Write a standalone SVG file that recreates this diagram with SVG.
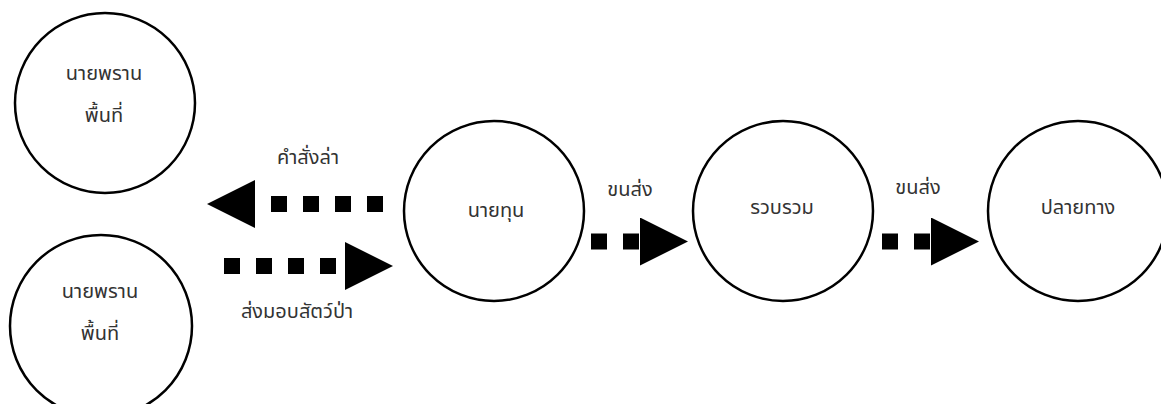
<svg xmlns="http://www.w3.org/2000/svg" width="1161" height="404" viewBox="0 0 1161 404">
<style>
.node circle{fill:#fff;stroke:#000;stroke-width:2.5}
text{font-family:"Noto Sans Thai","Noto Sans","Liberation Sans",sans-serif;font-size:20px;fill:#333;text-anchor:middle}
.conn{stroke:#000;stroke-width:16;stroke-dasharray:16 16;fill:none}
</style>
<defs>
<marker id="ah" markerUnits="userSpaceOnUse" markerWidth="48" markerHeight="48" viewBox="0 0 48 48" refX="0" refY="24" orient="auto">
<path d="M0,0 L48,24 L0,48 Z" fill="#000"/>
</marker>
</defs>
<g id="n1" class="node"><circle cx="105" cy="103" r="90"/><text x="104" y="80">นายพราน</text><text x="104" y="122">พื้นที่</text></g>
<g id="n2" class="node"><circle cx="101" cy="326" r="91"/><text x="100" y="298">นายพราน</text><text x="100" y="340">พื้นที่</text></g>
<g id="n3" class="node"><circle cx="494" cy="211" r="90"/><text x="496" y="217">นายทุน</text></g>
<g id="n4" class="node"><circle cx="783" cy="211" r="90"/><text x="782" y="214">รวบรวม</text></g>
<g id="n5" class="node"><circle cx="1078" cy="211" r="90"/><text x="1078" y="214">ปลายทาง</text></g>
<g id="connectors">
<path class="conn" d="M383,204 H255" marker-end="url(#ah)"/>
<path class="conn" d="M224,266 H345" marker-end="url(#ah)"/>
<path class="conn" d="M591,241.5 H640" marker-end="url(#ah)"/>
<path class="conn" d="M882,241.5 H931" marker-end="url(#ah)"/>
<text x="308" y="164">คำสั่งล่า</text>
<text x="297" y="318">ส่งมอบสัตว์ป่า</text>
<text x="630" y="196">ขนส่ง</text>
<text x="918" y="194">ขนส่ง</text>
</g>
</svg>
